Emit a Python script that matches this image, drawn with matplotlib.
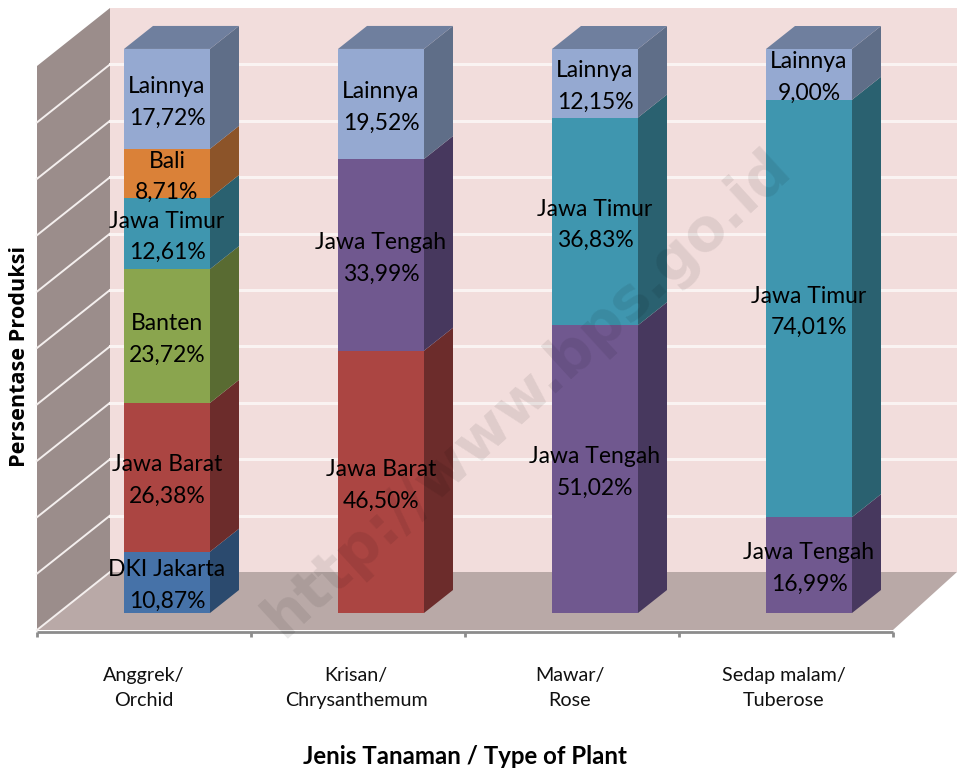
import matplotlib
matplotlib.use('Agg')
import matplotlib.pyplot as plt
from matplotlib.patches import Polygon

plt.rcParams['font.family'] = ['Lato', 'DejaVu Sans']

categories = ['Anggrek/\nOrchid', 'Krisan/\nChrysanthemum', 'Mawar/\nRose', 'Sedap malam/\nTuberose']
anggrek_regions = ['DKI Jakarta', 'Jawa Barat', 'Banten', 'Jawa Timur', 'Bali', 'Lainnya']
anggrek_values = [10.87, 26.38, 23.72, 12.61, 8.71, 17.72]
krisan_regions = ['Jawa Barat', 'Jawa Tengah', 'Lainnya']
krisan_values = [46.50, 33.99, 19.52]
mawar_regions = ['Jawa Tengah', 'Jawa Timur', 'Lainnya']
mawar_values = [51.02, 36.83, 12.15]
sedap_regions = ['Jawa Tengah', 'Jawa Timur', 'Lainnya']
sedap_values = [16.99, 74.01, 9.00]
stacks = [(anggrek_regions, anggrek_values), (krisan_regions, krisan_values),
          (mawar_regions, mawar_values), (sedap_regions, sedap_values)]
y_ticks = [0, 10, 20, 30, 40, 50, 60, 70, 80, 90, 100]

# front, side colours per region
colors = {
    'DKI Jakarta': ('#4672A8', '#2B4A6E'),
    'Jawa Barat': ('#AB4542', '#6C2C2B'),
    'Banten': ('#8AA54E', '#596B32'),
    'Jawa Timur': ('#3F96AF', '#2A6170'),
    'Bali': ('#DA8138', '#8C5429'),
    'Jawa Tengah': ('#70588F', '#47385E'),
    'Lainnya': ('#95A9D1', '#5F6E88'),
}
top_color = '#6F7F9E'

# scales: one category = 214 px, one percent = 5.64 px
px_x = 214.0
px_y = 5.64
x0_px = 167.0
y0_px = 613.0

fig = plt.figure(figsize=(9.57, 7.70), dpi=100)
ax = fig.add_axes([0, 0, 1, 1])
ax.set_xlim(-x0_px / px_x, (957 - x0_px) / px_x)
ax.set_ylim((y0_px - 770) / px_y, y0_px / px_y)
ax.axis('off')

def xu(px):
    return (px - x0_px) / px_x

def yu(px):
    return (y0_px - px) / px_y

wall_l_front, wall_l_back = xu(37), xu(110)
wall_r_front, wall_r_back = xu(893), xu(957)
back_off = yu(572)
front_off = yu(630)

# walls and floor
ax.add_patch(Polygon([(wall_l_back, back_off), (wall_r_back, back_off),
                      (wall_r_back, 100 + back_off), (wall_l_back, 100 + back_off)],
                     fc='#F2DDDC', ec='none', zorder=1))
ax.add_patch(Polygon([(wall_l_front, front_off), (wall_l_back, back_off),
                      (wall_l_back, 100 + back_off), (wall_l_front, 100 + front_off)],
                     fc='#9B8D8B', ec='none', zorder=1))
ax.add_patch(Polygon([(wall_l_front, front_off), (wall_r_front, front_off),
                      (wall_r_back, back_off), (wall_l_back, back_off)],
                     fc='#B9A9A7', ec='none', zorder=1))

# gridlines
for v in y_ticks[:-1]:
    ax.plot([wall_l_front, wall_l_back], [v + front_off, v + back_off], color='#F4EFEE', lw=1.4, zorder=2)
    if v > 0:
        ax.plot([wall_l_back, wall_r_back], [v + back_off, v + back_off], color='#FAF3F2', lw=2.2, zorder=2)

# category axis
axis_y = yu(632)
ax.plot([wall_l_front, wall_r_front], [axis_y, axis_y], color='#8C8C8C', lw=2, zorder=3, solid_capstyle='butt')
for i in range(len(categories) + 1):
    tx = wall_l_front + i * (wall_r_front - wall_l_front) / len(categories)
    ax.plot([tx, tx], [axis_y, yu(637)], color='#8C8C8C', lw=2, zorder=3, solid_capstyle='butt')

# bars
bar_w = 86 / px_x
dx = 29 / px_x
dy = 23 / px_y
for i, (regions, values) in enumerate(stacks):
    bottom = 0
    right = i + bar_w / 2
    for region, val in zip(regions, values):
        front, side = colors[region]
        ax.bar(i, val, bottom=bottom, width=bar_w, color=front, linewidth=0, zorder=4)
        ax.add_patch(Polygon([(right, bottom), (right + dx, bottom + dy),
                              (right + dx, bottom + val + dy), (right, bottom + val)],
                             fc=side, ec='none', zorder=4))
        ax.text(i, bottom + val / 2 - 0.6, f"{region}\n{val:.2f}%".replace('.', ','),
                ha='center', va='center', fontsize=16.5, color='black',
                linespacing=1.62, zorder=6)
        bottom += val
    left = i - bar_w / 2
    ax.add_patch(Polygon([(left, bottom), (right, bottom), (right + dx, bottom + dy), (left + dx, bottom + dy)],
                         fc=top_color, ec='none', zorder=4))

# category labels
label_x = [xu(144), xu(356), xu(570), xu(784)]
for lx, cat in zip(label_x, categories):
    ax.text(lx, yu(688), cat, ha='center', va='center', fontsize=14.2, color='#111111', linespacing=1.62)

ax.text(xu(465), yu(757), 'Jenis Tanaman / Type of Plant', ha='center', va='center',
        fontsize=17.3, fontweight='bold', color='black')
ax.text(xu(20), yu(356), 'Persentase Produksi', ha='center', va='center', rotation=90,
        fontsize=15.6, fontweight='bold', family='Open Sans', color='black')

# watermark
ax.text(xu(527), yu(393), 'http://www.bps.go.id', ha='center', va='center',
        rotation=42.5, rotation_mode='anchor', fontsize=42, fontweight='bold',
        family='DejaVu Sans', color='black', alpha=0.08, zorder=7)

fig.savefig('out.png', dpi=100)
